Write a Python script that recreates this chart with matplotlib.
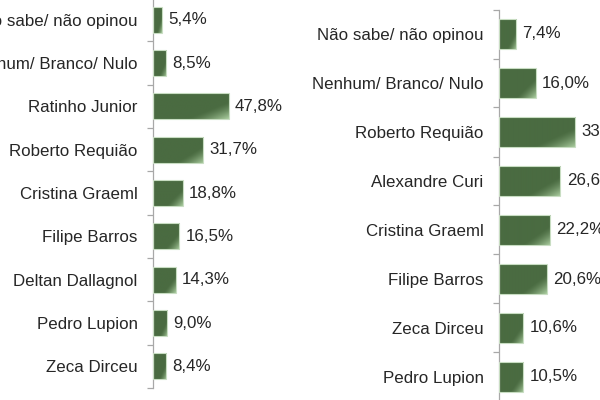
import matplotlib
matplotlib.use("Agg")
import matplotlib.pyplot as plt
from matplotlib.ticker import FixedLocator, NullLocator
import numpy as np

plt.rcParams['font.family'] = ['Liberation Sans', 'DejaVu Sans']

# left chart (first round)
left_names = ["Não sabe/ não opinou", "Nenhum/ Branco/ Nulo", "Ratinho Junior",
              "Roberto Requião", "Cristina Graeml", "Filipe Barros",
              "Deltan Dallagnol", "Pedro Lupion", "Zeca Dirceu"]
left_values = [5.4, 8.5, 47.8, 31.7, 18.8, 16.5, 14.3, 9.0, 8.4]

# right chart (second round scenario)
right_names = ["Não sabe/ não opinou", "Nenhum/ Branco/ Nulo", "Roberto Requião",
               "Alexandre Curi", "Cristina Graeml", "Filipe Barros",
               "Zeca Dirceu", "Pedro Lupion"]
right_values = [7.4, 16.0, 33.0, 26.6, 22.2, 20.6, 10.6, 10.5]

DARK = np.array([0x4a, 0x6b, 0x41]) / 255
LIGHT = np.array([0xa8, 0xcb, 0x9d]) / 255
FS = 12.2


def gradient():
    nx, ny = 80, 30
    u = np.linspace(0, 1, nx)[None, :]
    v = np.linspace(0, 1, ny)[:, None]
    s = 0.55 * u + 0.45 * v
    k = np.clip((s - 0.7) / 0.3, 0, 1) ** 1.4
    return DARK[None, None, :] * (1 - k[..., None]) + LIGHT[None, None, :] * k[..., None]


GRAD = gradient()


def draw(ax, names, values, xmax):
    n = len(names)
    pos = np.arange(n)
    bars = ax.barh(pos, values, height=0.6, color='none',
                   edgecolor='#c8ddc2', linewidth=0.8, zorder=3)
    for b, val in zip(bars, values):
        x0, y0, w, h = b.get_x(), b.get_y(), b.get_width(), b.get_height()
        im = ax.imshow(GRAD, extent=(x0, x0 + w, y0 + h, y0), origin='upper',
                       aspect='auto', interpolation='bilinear', zorder=2)
        im.set_clip_path(b)
        ax.annotate(f"{val:.1f}%".replace('.', ','), (x0 + w, y0 + h / 2),
                    xytext=(4.5, 0), textcoords='offset points',
                    va='center', ha='left', fontsize=FS, color='#262626')
    ax.set_xlim(0, xmax)
    ax.set_ylim(n - 0.5, -0.5)
    ax.set_yticks(pos)
    ax.set_yticklabels(names, fontsize=FS, color='#262626')
    ax.yaxis.set_minor_locator(FixedLocator(np.arange(n + 1) - 0.5))
    ax.tick_params(axis='y', which='major', length=0, pad=11)
    ax.tick_params(axis='y', which='minor', length=4, color='#a8a8a8', width=0.9)
    ax.xaxis.set_major_locator(NullLocator())
    for side in ('top', 'right', 'bottom'):
        ax.spines[side].set_visible(False)
    ax.spines['left'].set_color('#a8a8a8')
    ax.spines['left'].set_linewidth(0.9)


fig = plt.figure(figsize=(6, 4), dpi=100)
ax1 = fig.add_axes([153 / 600, 1 - 388 / 400, 95 / 600, 390 / 400])
ax2 = fig.add_axes([499 / 600, 1 - 401.5 / 400, 104 / 600, 392 / 400])
ax1.patch.set_alpha(0)
ax2.patch.set_alpha(0)
draw(ax1, left_names, left_values, 60)
draw(ax2, right_names, right_values, 45)

fig.savefig("out.png", dpi=100)
